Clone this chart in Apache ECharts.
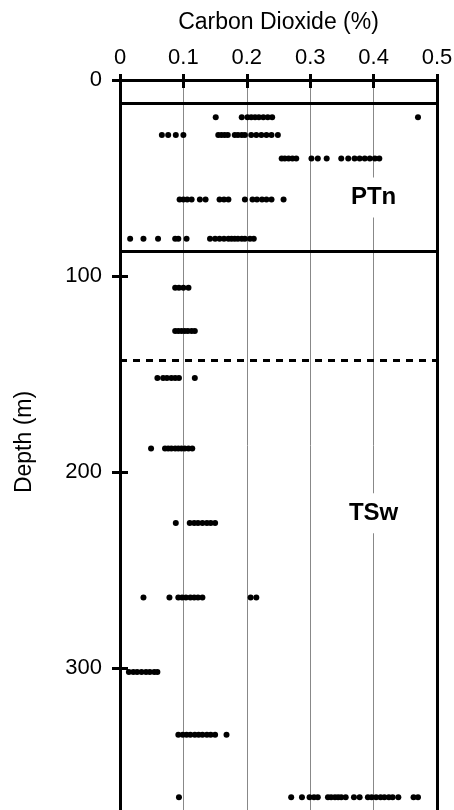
<!DOCTYPE html>
<html>
<head>
<meta charset="utf-8">
<title>Carbon Dioxide vs Depth</title>
<script src="https://cdn.jsdelivr.net/npm/echarts@6/dist/echarts.min.js"></script>
<style>
  html, body { margin: 0; padding: 0; background: #fff; }
  #chart { width: 454px; height: 810px; }
</style>
</head>
<body>
<div id="chart"></div>
<script>
// CO2 readings (%) grouped by sampling depth (m)
const depths = [19, 28, 40, 61, 81, 106, 128, 152, 188, 226, 264, 302, 334, 366];
const co2At19 = [0.151, 0.192, 0.201, 0.207, 0.213, 0.219, 0.226, 0.233, 0.240, 0.470];
const co2At28 = [0.066, 0.076, 0.088, 0.100, 0.155, 0.160, 0.165, 0.170, 0.181, 0.186, 0.192, 0.197, 0.207, 0.215, 0.223, 0.231, 0.239, 0.249];
const co2At40 = [0.255, 0.260, 0.266, 0.272, 0.278, 0.302, 0.312, 0.326, 0.349, 0.360, 0.370, 0.378, 0.386, 0.394, 0.402, 0.409];
const co2At61 = [0.094, 0.100, 0.106, 0.113, 0.126, 0.135, 0.157, 0.164, 0.171, 0.197, 0.209, 0.216, 0.224, 0.231, 0.239, 0.258];
const co2At81 = [0.016, 0.037, 0.060, 0.087, 0.092, 0.105, 0.142, 0.150, 0.157, 0.164, 0.171, 0.176, 0.181, 0.186, 0.192, 0.197, 0.205, 0.211];
const co2At106 = [0.087, 0.093, 0.100, 0.108];
const co2At128 = [0.087, 0.092, 0.097, 0.102, 0.107, 0.113, 0.118];
const co2At152 = [0.059, 0.068, 0.074, 0.081, 0.087, 0.093, 0.118];
const co2At188 = [0.049, 0.071, 0.076, 0.081, 0.087, 0.092, 0.097, 0.102, 0.108, 0.114];
const co2At226 = [0.088, 0.110, 0.117, 0.123, 0.130, 0.137, 0.143, 0.150];
const co2At264 = [0.037, 0.078, 0.092, 0.098, 0.104, 0.111, 0.117, 0.123, 0.130, 0.206, 0.215];
const co2At302 = [0.014, 0.021, 0.027, 0.034, 0.041, 0.047, 0.054, 0.059];
const co2At334 = [0.092, 0.099, 0.105, 0.111, 0.118, 0.124, 0.130, 0.137, 0.143, 0.150, 0.168];
const co2At366 = [0.093, 0.270, 0.287, 0.299, 0.306, 0.312, 0.328, 0.333, 0.339, 0.344, 0.349, 0.356, 0.369, 0.378, 0.391, 0.397, 0.404, 0.411, 0.417, 0.424, 0.430, 0.439, 0.463, 0.470];

const co2Rows = [co2At19, co2At28, co2At40, co2At61, co2At81, co2At106, co2At128,
                 co2At152, co2At188, co2At226, co2At264, co2At302, co2At334, co2At366];

// Unit boundaries (m): PTn top, PTn base, TSw internal contact
const unitTop = 12;
const unitBase = 87.5;
const contactDepth = 143;

// Unit names and where they are written (CO2 %, depth m)
const unitNames = ['PTn', 'TSw'];
const unitLabelCo2 = [0.4, 0.4];
const unitLabelDepth = [60, 221];

const xTicks = { min: 0, max: 0.5, interval: 0.1 };
const yTicks = { min: 0, max: 400, interval: 100 };

const points = [];
depths.forEach((d, i) => co2Rows[i].forEach(v => points.push([v, d])));

const unitLabels = unitNames.map((n, i) => [unitLabelCo2[i], unitLabelDepth[i], n]);

const FONT = '"Liberation Sans", Arial, Helvetica, sans-serif';
const BLACK = '#000';

const chart = echarts.init(document.getElementById('chart'), null, { renderer: 'canvas' });

chart.setOption({
  animation: false,
  backgroundColor: '#fff',
  textStyle: { fontFamily: FONT },
  grid: {
    left: 120, right: 17, top: 80, bottom: -54,
    containLabel: false, outerBoundsMode: 'none'
  },
  graphic: [{
    type: 'text',
    x: 25, y: 442,
    rotation: Math.PI / 2,
    style: {
      text: 'Depth (m)',
      font: '23px ' + FONT,
      fill: BLACK,
      align: 'center',
      verticalAlign: 'middle'
    }
  }],
  xAxis: [{
    type: 'value',
    position: 'top',
    min: xTicks.min, max: xTicks.max, interval: xTicks.interval,
    name: 'Carbon Dioxide (%)',
    nameLocation: 'middle',
    nameGap: 46,
    nameTextStyle: { color: BLACK, fontSize: 23, fontFamily: FONT },
    axisLine: { show: true, lineStyle: { color: BLACK, width: 3 } },
    axisTick: { show: true, inside: false, length: 6, lineStyle: { color: BLACK, width: 3 } },
    axisLabel: { color: BLACK, fontSize: 22, fontFamily: FONT, margin: 11 },
    splitLine: { show: true, lineStyle: { color: '#888', width: 1 } }
  }, {
    type: 'value',
    position: 'top',
    min: xTicks.min, max: xTicks.max, interval: xTicks.interval,
    axisLine: { show: false },
    axisTick: { show: true, inside: true, length: 8, lineStyle: { color: BLACK, width: 3 } },
    axisLabel: { show: false },
    splitLine: { show: false }
  }],
  yAxis: [{
    type: 'value',
    position: 'left',
    inverse: true,
    min: yTicks.min, max: yTicks.max, interval: yTicks.interval,
    axisLine: { show: true, lineStyle: { color: BLACK, width: 3 } },
    axisTick: { show: true, inside: false, length: 8, lineStyle: { color: BLACK, width: 3 } },
    axisLabel: { color: BLACK, fontSize: 22, fontFamily: FONT, margin: 18 },
    splitLine: { show: false }
  }, {
    type: 'value',
    position: 'left',
    inverse: true,
    min: yTicks.min, max: yTicks.max, interval: yTicks.interval,
    axisLine: { show: false },
    axisTick: { show: true, inside: true, length: 8, lineStyle: { color: BLACK, width: 3 } },
    axisLabel: { show: false },
    splitLine: { show: false }
  }, {
    type: 'value',
    position: 'right',
    inverse: true,
    min: yTicks.min, max: yTicks.max, interval: yTicks.interval,
    axisLine: { show: true, onZero: false, lineStyle: { color: BLACK, width: 3 } },
    axisTick: { show: false },
    axisLabel: { show: false },
    splitLine: { show: false }
  }],
  series: [{
    type: 'scatter',
    xAxisIndex: 0,
    yAxisIndex: 0,
    symbol: 'circle',
    symbolSize: 6,
    itemStyle: { color: BLACK, opacity: 1 },
    data: points,
    z: 5,
    markLine: {
      silent: true,
      symbol: ['none', 'none'],
      label: { show: false },
      lineStyle: { color: BLACK, width: 3, type: 'solid', opacity: 1 },
      data: [
        { yAxis: unitTop },
        { yAxis: unitBase },
        { yAxis: contactDepth, lineStyle: { type: [7, 6], width: 3, color: BLACK } }
      ]
    }
  }, {
    type: 'scatter',
    xAxisIndex: 0,
    yAxisIndex: 0,
    symbolSize: 0,
    silent: true,
    z: 6,
    itemStyle: { opacity: 1 },
    data: unitLabels,
    label: {
      show: true,
      position: 'inside',
      formatter: p => p.value[2],
      color: BLACK,
      opacity: 1,
      fontSize: 24,
      fontWeight: 'bold',
      fontFamily: FONT,
      backgroundColor: '#fff',
      padding: [8, 4]
    }
  }]
});
</script>
</body>
</html>
